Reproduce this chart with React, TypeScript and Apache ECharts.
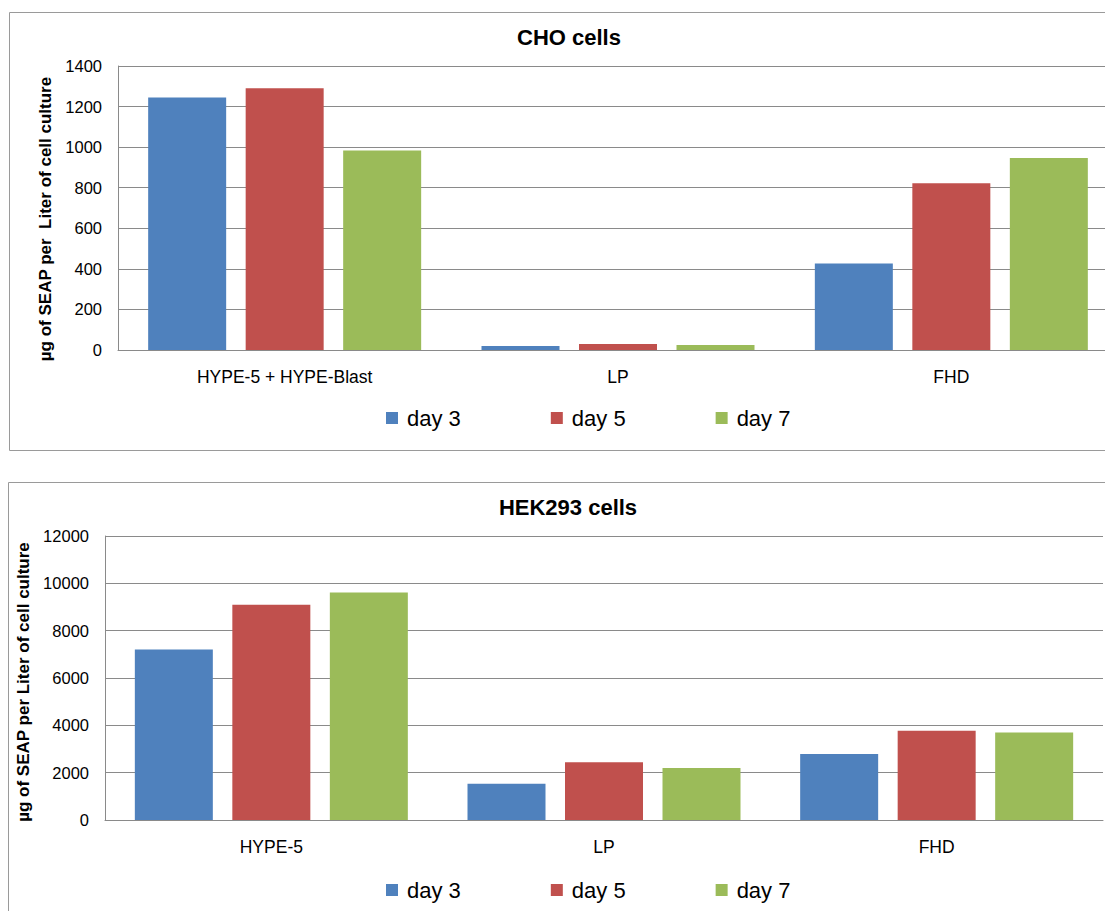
import React, { useEffect, useRef } from "react";
import * as echarts from "echarts";

const choCategories = ["HYPE-5 + HYPE-Blast", "LP", "FHD"];
const hekCategories = ["HYPE-5", "LP", "FHD"];
const seriesNames = ["day 3", "day 5", "day 7"];
const choDay3 = [1245, 20, 427];
const choDay5 = [1290, 30, 822];
const choDay7 = [983, 25, 946];
const hekDay3 = [7200, 1530, 2785];
const hekDay5 = [9100, 2435, 3770];
const hekDay7 = [9610, 2200, 3700];
const colors = ["#4F81BD", "#C0504D", "#9BBB59"];

const FONT = "'Liberation Sans', Arial, sans-serif";
const GRID_COLOR = "#8a8a8a";

export default function App() {
  const ref = useRef<HTMLDivElement>(null);
  useEffect(() => {
    if (!ref.current) return;
    const chart = echarts.init(ref.current, undefined, { renderer: "svg" });
    const yAxisCommon = (idx: number, max: number, interval: number, name: string, gap: number, pad: number[]) => ({
      type: "value",
      gridIndex: idx,
      min: 0,
      max,
      interval,
      name,
      nameLocation: "middle",
      nameRotate: 90,
      nameGap: gap,
      nameTextStyle: { fontFamily: FONT, fontSize: 17, fontWeight: "bold", color: "#000", padding: pad },
      axisLine: { show: true, lineStyle: { color: GRID_COLOR, width: 1 } },
      axisTick: { show: false },
      axisLabel: { fontFamily: FONT, fontSize: 16.5, color: "#000", margin: 16, formatter: (v: number) => String(v) },
      splitLine: { show: true, lineStyle: { color: GRID_COLOR, width: 1 } },
    });
    const xAxisCommon = (idx: number, data: string[]) => ({
      type: "category",
      gridIndex: idx,
      data,
      axisLine: { show: true, lineStyle: { color: GRID_COLOR, width: 1 } },
      axisTick: { show: false },
      axisLabel: { fontFamily: FONT, fontSize: 17.5, color: "#000", margin: 18 },
    });
    const mkSeries = (name: string, data: number[], idx: number, color: string) => ({
      type: "bar",
      name,
      data,
      xAxisIndex: idx,
      yAxisIndex: idx,
      barWidth: 78,
      barGap: "25%",
      itemStyle: { color },
    });
    const legendCommon = {
      data: seriesNames,
      left: 381,
      itemWidth: 12,
      itemHeight: 12,
      itemGap: 90,
      icon: "rect",
      textStyle: { fontFamily: FONT, fontSize: 22, color: "#000", padding: [0, 0, 0, 4] },
    };
    chart.setOption({
      animation: false,
      color: colors,
      title: [
        {
          text: "CHO cells",
          left: 564,
          top: 21,
          textAlign: "center",
          textStyle: { fontFamily: FONT, fontSize: 22, fontWeight: "bold", color: "#000" },
        },
        {
          text: "HEK293 cells",
          left: 563,
          top: 491,
          textAlign: "center",
          textStyle: { fontFamily: FONT, fontSize: 22, fontWeight: "bold", color: "#000" },
        },
      ],
      legend: [
        { ...legendCommon, top: 402 },
        { ...legendCommon, top: 874 },
      ],
      grid: [
        { left: 118, top: 66, width: 1000, height: 284 },
        { left: 105, top: 536, width: 998, height: 284 },
      ],
      xAxis: [xAxisCommon(0, choCategories), xAxisCommon(1, hekCategories)],
      yAxis: [
        yAxisCommon(0, 1400, 200, "µg of SEAP per  Liter of cell culture", 52, [0, 22, 0, 0]),
        yAxisCommon(1, 12000, 2000, "µg of SEAP per Liter of cell culture", 60, [0, 8, 0, 0]),
      ],
      graphic: [
        {
          type: "rect",
          shape: { x: 9.5, y: 12.5, width: 1200, height: 438 },
          style: { fill: "none", stroke: "#9a9a9a", lineWidth: 1 },
          silent: true,
        },
        {
          type: "rect",
          shape: { x: 8.5, y: 482.5, width: 1200, height: 500 },
          style: { fill: "none", stroke: "#9a9a9a", lineWidth: 1 },
          silent: true,
        },
      ],
      series: [
        mkSeries(seriesNames[0], choDay3, 0, colors[0]),
        mkSeries(seriesNames[1], choDay5, 0, colors[1]),
        mkSeries(seriesNames[2], choDay7, 0, colors[2]),
        mkSeries(seriesNames[0], hekDay3, 1, colors[0]),
        mkSeries(seriesNames[1], hekDay5, 1, colors[1]),
        mkSeries(seriesNames[2], hekDay7, 1, colors[2]),
      ],
    });
    return () => chart.dispose();
  }, []);
  return (
    <div style={{ position: "fixed", left: 0, top: 0, width: 1105, height: 911, overflow: "hidden", background: "#fff" }}>
      <div ref={ref} style={{ width: 1140, height: 911 }} />
    </div>
  );
}
